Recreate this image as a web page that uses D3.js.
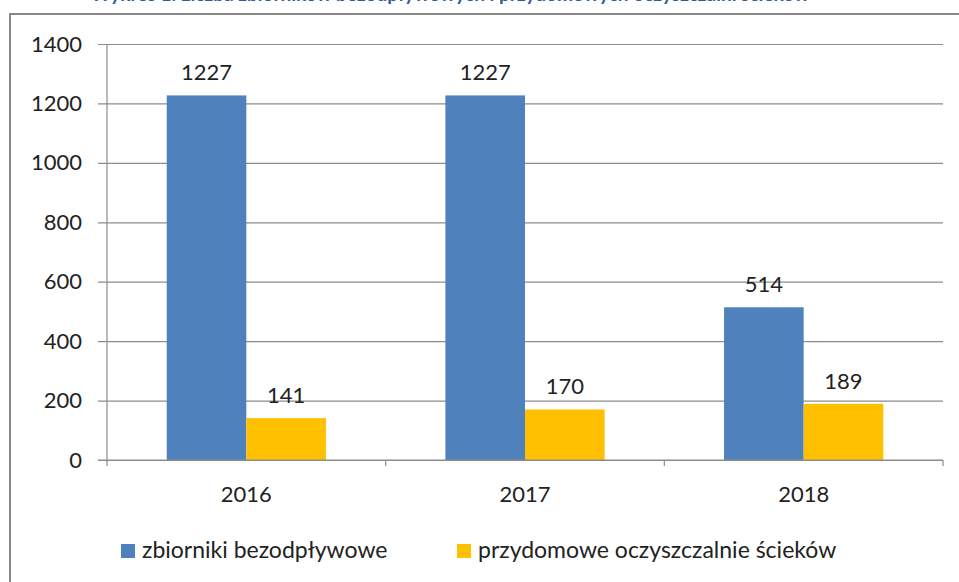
<!DOCTYPE html>
<html>
<head>
<meta charset="utf-8">
<script src="https://cdn.jsdelivr.net/npm/d3@7"></script>
<style>
  body { margin: 0; background: #fff; }
  text { font-family: Lato, "Open Sans", sans-serif; }
</style>
</head>
<body>
<div class="canvas"></div>
<script>
const years = ['2016', '2017', '2018'];
const seriesNames = ['zbiorniki bezodpływowe', 'przydomowe oczyszczalnie ścieków'];
const zbiorniki = [1227, 1227, 514];
const oczyszczalnie = [141, 170, 189];
const yTicks = [0, 200, 400, 600, 800, 1000, 1200, 1400];
const colors = ['#4f81bd', '#ffc000'];

const svg = d3.select('.canvas')
  .append('svg')
  .attr('width', 959)
  .attr('height', 582);

// title line, cut off by the top of the picture like in the source
svg.append('text')
  .attr('x', 450)
  .attr('y', 1)
  .attr('text-anchor', 'middle')
  .attr('fill', '#2e5c9a')
  .attr('font-weight', 'bold')
  .attr('font-size', 19)
  .text('Wykres 1. Liczba zbiorników bezodpływowych i przydomowych oczyszczalni ścieków');

// chart frame
svg.append('rect')
  .attr('x', 10)
  .attr('y', 14)
  .attr('width', 960)
  .attr('height', 600)
  .attr('fill', 'none')
  .attr('stroke', '#888')
  .attr('stroke-width', 2);

const margin = {top: 44, left: 107, right: 943, bottom: 460};

const x = d3.scaleBand()
  .domain(years)
  .range([margin.left, margin.right]);

const xs = d3.scaleBand()
  .domain([0, 1])
  .range([0, x.bandwidth()])
  .paddingInner(0)
  .paddingOuter(0.75);

const y = d3.scaleLinear()
  .domain([0, 1400])
  .range([margin.bottom, margin.top]);

// gridlines + y labels
const yAxis = d3.axisLeft(y)
  .tickValues(yTicks)
  .tickFormat(d3.format('d'))
  .tickSize(margin.right - margin.left + 9)
  .tickPadding(16);

const gy = svg.append('g')
  .attr('transform', `translate(${margin.right},0)`)
  .call(yAxis);
gy.select('.domain').remove();
gy.selectAll('.tick line')
  .attr('stroke', '#8c8c8c')
  .attr('stroke-width', 1.2);
gy.selectAll('.tick text')
  .attr('fill', '#222')
  .attr('font-size', 22);

// vertical axis line
svg.append('line')
  .attr('x1', margin.left).attr('x2', margin.left)
  .attr('y1', margin.top).attr('y2', margin.bottom)
  .attr('stroke', '#8c8c8c')
  .attr('stroke-width', 1.2);

// bars
const rows = years.map((yr, i) => ({year: yr, vals: [zbiorniki[i], oczyszczalnie[i]]}));

const groups = svg.selectAll('g.year')
  .data(rows)
  .enter()
  .append('g')
  .attr('class', 'year')
  .attr('transform', d => `translate(${x(d.year)},0)`);

groups.selectAll('rect')
  .data(d => d.vals)
  .enter()
  .append('rect')
  .attr('x', (d, i) => xs(i))
  .attr('width', xs.bandwidth())
  .attr('y', d => y(d))
  .attr('height', d => y(0) - y(d))
  .attr('fill', (d, i) => colors[i]);

groups.selectAll('text.lbl')
  .data(d => d.vals)
  .enter()
  .append('text')
  .attr('class', 'lbl')
  .attr('x', (d, i) => xs(i) + xs.bandwidth() / 2)
  .attr('y', d => y(d) - 15)
  .attr('text-anchor', 'middle')
  .attr('fill', '#222')
  .attr('font-size', 22)
  .text(d => d);

// x axis
const xAxis = d3.axisBottom(x).tickSize(0).tickPadding(26);
const gx = svg.append('g')
  .attr('transform', `translate(0,${margin.bottom})`)
  .call(xAxis);
gx.select('.domain')
  .attr('d', `M${margin.left - 9},0H${margin.right}`)
  .attr('stroke', '#8c8c8c')
  .attr('stroke-width', 1.2);
gx.selectAll('.tick text')
  .attr('fill', '#222')
  .attr('font-size', 22);

const edges = years.map(d => x(d)).concat([margin.right]);
gx.selectAll('line.cat')
  .data(edges)
  .enter()
  .append('line')
  .attr('class', 'cat')
  .attr('x1', d => d).attr('x2', d => d)
  .attr('y1', 0).attr('y2', 6)
  .attr('stroke', '#8c8c8c')
  .attr('stroke-width', 1.2);

// legend
const legendX = [121, 457];
const legend = svg.selectAll('g.legend')
  .data(seriesNames)
  .enter()
  .append('g')
  .attr('class', 'legend')
  .attr('transform', (d, i) => `translate(${legendX[i]},544)`);

legend.append('rect')
  .attr('width', 14)
  .attr('height', 14)
  .attr('fill', (d, i) => colors[i]);

legend.append('text')
  .attr('x', 21)
  .attr('y', 14)
  .attr('fill', '#222')
  .attr('font-size', 23)
  .text(d => d);
</script>
</body>
</html>
